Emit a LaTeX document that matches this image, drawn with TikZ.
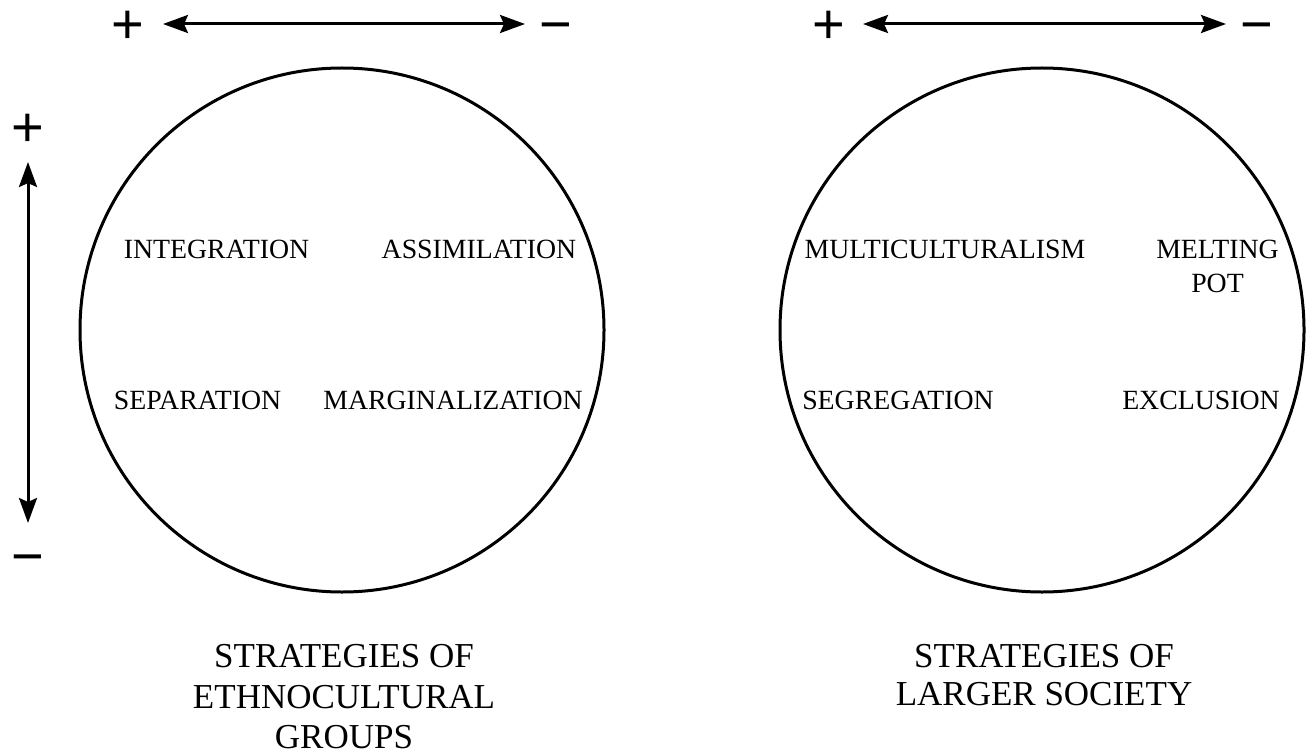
\documentclass[tikz,border=0pt]{standalone}
\usepackage{fontspec}
\setmainfont{Liberation Serif}
\newfontfamily\signfont{Liberation Sans}
\usetikzlibrary{arrows.meta}
\begin{document}
\begin{tikzpicture}[x=1pt,y=-1pt,
  lbl/.style={font=\fontsize{27.8}{30}\selectfont, anchor=base, inner sep=0pt},
  ttl/.style={font=\fontsize{35}{40}\selectfont, anchor=base, inner sep=0pt},
  sign/.style={font=\signfont\fontsize{56}{56}\selectfont, inner sep=0pt, anchor=base},
  ring/.style={draw, line width=3pt, circle, minimum size=524pt, inner sep=0pt},
  axis/.style={line width=3pt, {Stealth[length=25pt,width=18pt,inset=4pt]}-{Stealth[length=25pt,width=18pt,inset=4pt]}}
]
\useasboundingbox (0,0) rectangle (1308,754);

% circles
\node[ring] (c1) at (342,330) {};
\node[ring] (c2) at (1042,330) {};

% top axes
\node[sign] (p1) at (128,44) {+};
\node[sign] (m1) at (556,44) {−};
\coordinate (a1s) at (163,24);
\coordinate (a1e) at (525,24);
\draw[axis] (a1s) -- (a1e);

\node[sign] (p2) at (829,44) {+};
\node[sign] (m2) at (1257,44) {−};
\coordinate (a2s) at (863,24);
\coordinate (a2e) at (1226,24);
\draw[axis] (a2s) -- (a2e);

% vertical axis
\node[sign] (p3) at (28,147) {+};
\node[sign] (m3) at (28,575) {−};
\coordinate (vs) at (28,162);
\coordinate (ve) at (28,523);
\draw[axis] (vs) -- (ve);

% left circle labels
\node[lbl] (integ) at (216.5,258) {INTEGRATION};
\node[lbl] (assim) at (479,258) {ASSIMILATION};
\node[lbl] (separ) at (197.5,409) {SEPARATION};
\node[lbl] (margi) at (453,409) {MARGINALIZATION};

% right circle labels
\node[lbl] (multi) at (945,258) {MULTICULTURALISM};
\node[lbl] (melt) at (1217.5,258) {MELTING};
\node[lbl] (pot) at (1217.5,292) {POT};
\node[lbl] (segre) at (898,409) {SEGREGATION};
\node[lbl] (exclu) at (1201,409) {EXCLUSION};

% titles
\node[ttl] (t1a) at (344,667) {STRATEGIES OF};
\node[ttl] (t1b) at (344,708) {ETHNOCULTURAL};
\node[ttl] (t1c) at (344,748) {GROUPS};
\node[ttl] (t2a) at (1044,667) {STRATEGIES OF};
\node[ttl] (t2b) at (1044,705) {LARGER SOCIETY};
\end{tikzpicture}
\end{document}
